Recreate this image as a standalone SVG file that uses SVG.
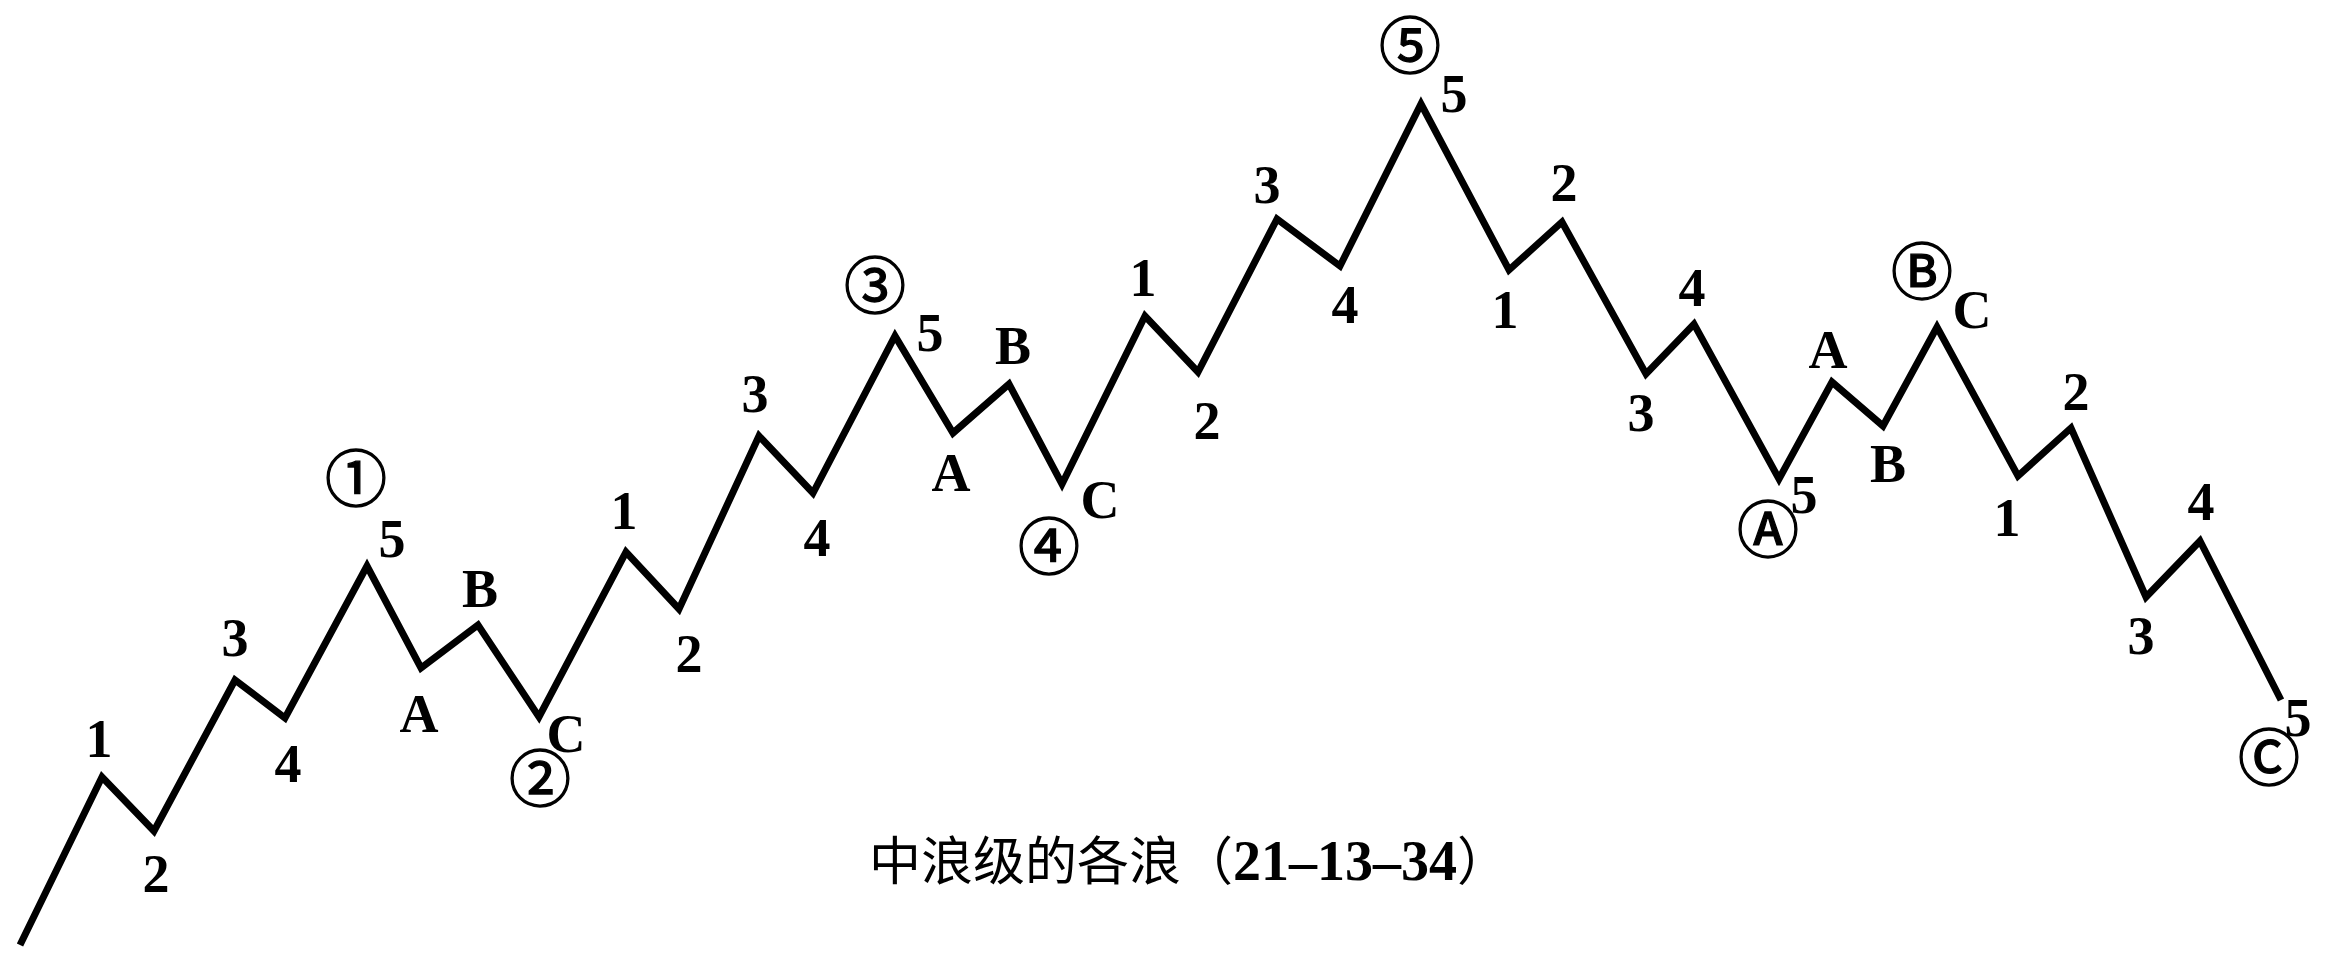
<svg xmlns="http://www.w3.org/2000/svg" width="2341" height="953" viewBox="0 0 2341 953">
<style>
.bg{fill:#fff}
.wave{fill:none;stroke:#000;stroke-width:7;stroke-linejoin:miter;stroke-miterlimit:10;stroke-linecap:butt}
.lb{font-family:"Liberation Serif","Times New Roman",serif;font-weight:bold;font-size:54px;fill:#000;text-anchor:middle}
.cn{font-family:"Noto Sans CJK SC","DejaVu Sans",sans-serif;font-size:62px;fill:#000;stroke:#000;stroke-width:1.3;text-anchor:middle}
.cap{font-size:52px;fill:#000}
</style>
<rect class="bg" x="0" y="0" width="2341" height="953"/>
<g id="connectors">
<polyline class="wave" points="20,945 102,777 154,831 235,680 285,718 367,566 421,668 478,625 539,717 626,552 679,609 759,436 813,493 895,336 953,433 1009,384 1062,484 1145,316 1198,372 1277,219 1340,266 1421,104 1509,270 1562,222 1646,374 1694,324 1779,479 1832,382 1883,426 1937,327 2018,476 2071,428 2146,597 2200,541 2281,700"/>
</g>
<g id="labels-1">
<g id="l1-1"><text class="lb" x="99" y="757">1</text></g>
<g id="l1-2"><text class="lb" x="156" y="892">2</text></g>
<g id="l1-3"><text class="lb" x="235" y="656">3</text></g>
<g id="l1-4"><text class="lb" x="288" y="782">4</text></g>
<g id="l1-5"><text class="lb" x="392" y="557">5</text></g>
<g id="c1"><text class="cn" x="356" y="502">①</text></g>
<g id="l1-A"><text class="lb" x="419" y="732">A</text></g>
<g id="l1-B"><text class="lb" x="480" y="607">B</text></g>
<g id="l1-C"><text class="lb" x="566" y="752">C</text></g>
<g id="c2"><text class="cn" x="540" y="802">②</text></g>
</g>
<g id="labels-3">
<g id="l3-1"><text class="lb" x="624" y="529">1</text></g>
<g id="l3-2"><text class="lb" x="689" y="672">2</text></g>
<g id="l3-3"><text class="lb" x="755" y="412">3</text></g>
<g id="l3-4"><text class="lb" x="817" y="556">4</text></g>
<g id="l3-5"><text class="lb" x="930" y="351">5</text></g>
<g id="c3"><text class="cn" x="875" y="309">③</text></g>
<g id="l3-A"><text class="lb" x="951" y="491">A</text></g>
<g id="l3-B"><text class="lb" x="1013" y="364">B</text></g>
<g id="l3-C"><text class="lb" x="1100" y="518">C</text></g>
<g id="c4"><text class="cn" x="1049" y="570">④</text></g>
</g>
<g id="labels-5">
<g id="l5-1"><text class="lb" x="1143" y="296">1</text></g>
<g id="l5-2"><text class="lb" x="1207" y="439">2</text></g>
<g id="l5-3"><text class="lb" x="1267" y="203">3</text></g>
<g id="l5-4"><text class="lb" x="1345" y="323">4</text></g>
<g id="l5-5"><text class="lb" x="1454" y="112">5</text></g>
<g id="c5"><text class="cn" x="1410" y="69">⑤</text></g>
</g>
<g id="labels-A">
<g id="lA-1"><text class="lb" x="1505" y="328">1</text></g>
<g id="lA-2"><text class="lb" x="1564" y="201">2</text></g>
<g id="lA-3"><text class="lb" x="1641" y="431">3</text></g>
<g id="lA-4"><text class="lb" x="1692" y="306">4</text></g>
<g id="lA-5"><text class="lb" x="1804" y="513">5</text></g>
<g id="cA"><text class="cn" x="1768" y="553">Ⓐ</text></g>
</g>
<g id="labels-B">
<g id="lB-A"><text class="lb" x="1828" y="368">A</text></g>
<g id="lB-B"><text class="lb" x="1888" y="482">B</text></g>
<g id="lB-C"><text class="lb" x="1972" y="328">C</text></g>
<g id="cB"><text class="cn" x="1922" y="295">Ⓑ</text></g>
</g>
<g id="labels-C">
<g id="lC-1"><text class="lb" x="2007" y="536">1</text></g>
<g id="lC-2"><text class="lb" x="2076" y="410">2</text></g>
<g id="lC-3"><text class="lb" x="2141" y="654">3</text></g>
<g id="lC-4"><text class="lb" x="2201" y="520">4</text></g>
<g id="lC-5"><text class="lb" x="2298" y="736">5</text></g>
<g id="cC"><text class="cn" x="2269" y="781">Ⓒ</text></g>
</g>
<g id="caption">
<text class="cap" x="869" y="880"><tspan font-family="Noto Sans CJK SC, sans-serif">中浪级的各浪（</tspan><tspan font-family="Liberation Serif, serif" font-size="56" font-weight="bold">21–13–34</tspan><tspan font-family="Noto Sans CJK SC, sans-serif">）</tspan></text>
</g>
</svg>
